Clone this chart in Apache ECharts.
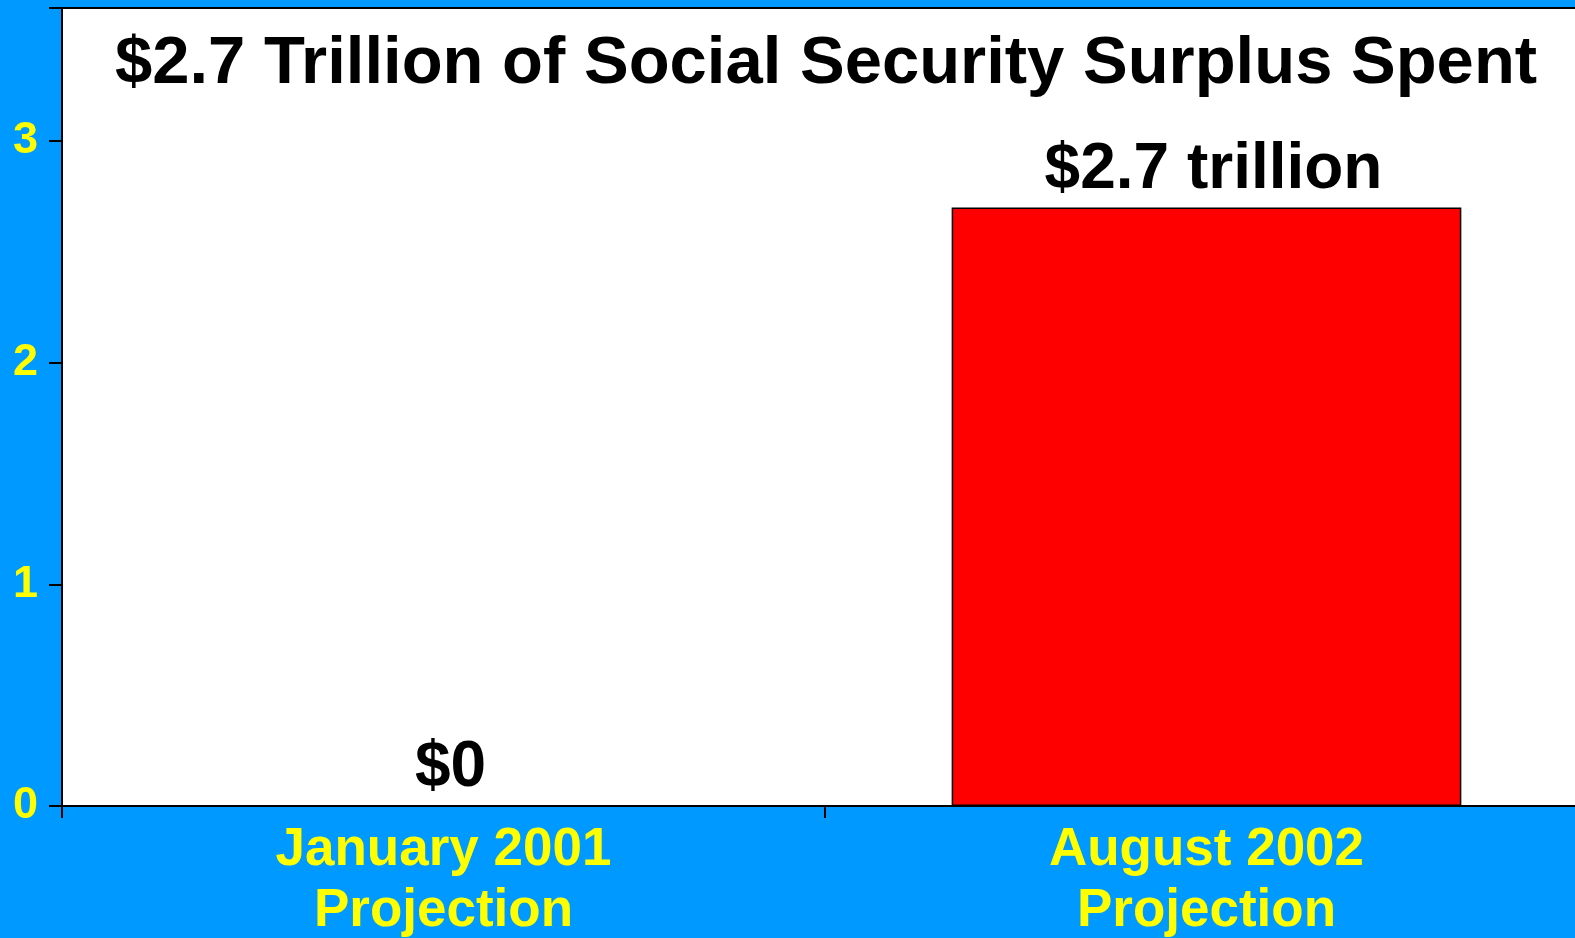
<!DOCTYPE html>
<html>
<head>
<meta charset="utf-8">
<script src="https://cdn.jsdelivr.net/npm/echarts@6/dist/echarts.min.js"></script>
<style>
  html, body { margin: 0; padding: 0; background: #0099FF; }
  #chart { width: 1575px; height: 938px; }
</style>
</head>
<body>
<div id="chart"></div>
<script>
// Social Security surplus spent, trillions of dollars
const chartTitle = '$2.7 Trillion of Social Security Surplus Spent';
const categories = ['January 2001\nProjection', 'August 2002\nProjection'];
const surplusSpent = [0, 2.7];
const valueLabels = ['$0', '$2.7 trillion'];
const yTicks = [0, 1, 2, 3];

const FONT = '"Liberation Sans", Arial, sans-serif';

const chart = echarts.init(document.getElementById('chart'), null, { renderer: 'canvas' });

chart.setOption({
  backgroundColor: '#0099FF',
  animation: false,
  title: {
    text: chartTitle,
    left: 826,
    textAlign: 'center',
    top: 31,
    padding: 0,
    textStyle: { fontFamily: FONT, fontWeight: 'bold', fontSize: 67, color: '#000' }
  },
  // plot area runs slightly past the right edge of the page
  grid: {
    left: 62, top: 8, width: 1526, height: 798,
    outerBoundsMode: 'none',
    containLabel: false,
    show: true, backgroundColor: '#FFFFFF', borderColor: '#000', borderWidth: 2
  },
  xAxis: {
    type: 'category',
    data: categories,
    axisLine: { lineStyle: { color: '#000', width: 2 } },
    axisTick: { show: true, length: 12, lineStyle: { color: '#000', width: 2 } },
    axisLabel: {
      margin: 14,
      fontFamily: FONT, fontWeight: 'bold', fontSize: 53, lineHeight: 61,
      color: '#FFFF00',
      textShadowColor: '#000', textShadowOffsetX: 2, textShadowOffsetY: 2, textShadowBlur: 0
    }
  },
  yAxis: {
    type: 'value',
    min: 0, max: 3.6, interval: 1,
    splitLine: { show: false },
    axisLine: { show: true, lineStyle: { color: '#000', width: 2 } },
    axisTick: { show: true, length: 13, lineStyle: { color: '#000', width: 2 } },
    axisLabel: {
      margin: 24,
      fontFamily: FONT, fontWeight: 'bold', fontSize: 45, color: '#FFFF00',
      formatter: v => (yTicks.indexOf(v) >= 0 ? String(v) : '')
    }
  },
  series: [{
    type: 'bar',
    data: surplusSpent,
    barWidth: '66.8%',
    itemStyle: { color: '#FF0000', borderColor: '#000', borderWidth: 1.5 },
    label: {
      show: true,
      position: 'top',
      distance: 5,
      offset: [7, 0],
      fontFamily: FONT, fontWeight: 'bold', fontSize: 64, color: '#000',
      formatter: p => valueLabels[p.dataIndex]
    }
  }]
});
</script>
</body>
</html>
